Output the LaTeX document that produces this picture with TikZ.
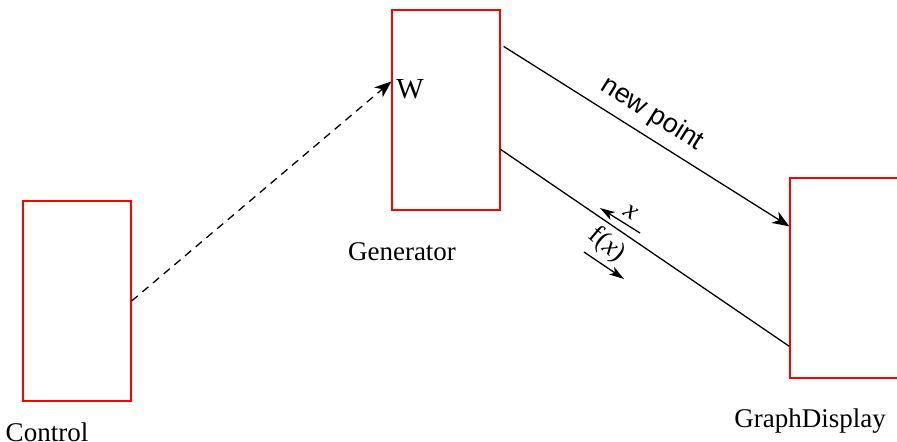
\documentclass[tikz,border=0pt]{standalone}
\usepackage{fontspec}
\setmainfont{Liberation Serif}
\setsansfont{Liberation Sans}
\usetikzlibrary{arrows.meta,calc}
\definecolor{boxred}{RGB}{255,0,0}
\begin{document}
\begin{tikzpicture}[x=0.5pt,y=-0.5pt,
  box/.style={draw=boxred,line width=0.6pt,inner sep=0pt,minimum width=54pt,minimum height=100pt},
  lbl/.style={inner sep=0pt,font=\fontsize{13.5}{15}\selectfont},
  conn/.style={line width=0.65pt},
  bigtip/.style={-{Stealth[length=8.5pt,width=6.5pt,inset=2.5pt]}},
  smalltip/.style={-{Stealth[length=7.5pt,width=4.5pt,inset=2pt]}}]
\useasboundingbox (0,0) rectangle (897,441);
\node[box] (ctrl) at (77,301) {};
\node[box] (gen) at (446,110) {};
\node[box] (gd) at (844,278) {};
\node[lbl] (ctrlL) at (47,432) {Control};
\node[lbl] (genL) at (402,252) {Generator};
\node[lbl] (gdL) at (810,421) {GraphDisplay};
\node[lbl,font=\fontsize{14.5}{16}\selectfont] (w) at (410,89) {W};
\coordinate (gw) at ($(gen.north west)+(0,72)$);
\draw[conn,dash pattern=on 4pt off 3pt,bigtip] (ctrl.east) -- (gw);
\coordinate (npS) at ($(gen.north east)+(3,37)$);
\coordinate (npE) at ($(gd.north west)+(0,49)$);
\draw[conn,bigtip] (npS) -- (npE);
\node[lbl,font=\sffamily\fontsize{13.5}{15}\selectfont,rotate=-32] (np) at (652,114) {new point};
\coordinate (lS) at ($(gen.north east)+(0,140)$);
\coordinate (lE) at ($(gd.north west)+(0,169)$);
\draw[conn] (lS) -- (lE);
\coordinate (xS) at (640,233);
\coordinate (xE) at (600,208);
\draw[conn,smalltip] (xS) -- (xE);
\node[lbl,rotate=-32] (xl) at (631,212) {\itshape x};
\coordinate (fS) at (584,252);
\coordinate (fE) at (624,279);
\draw[conn,smalltip] (fS) -- (fE);
\node[lbl,rotate=-40] (fl) at (607,245) {f(\itshape x\upshape)};
\end{tikzpicture}
\end{document}
